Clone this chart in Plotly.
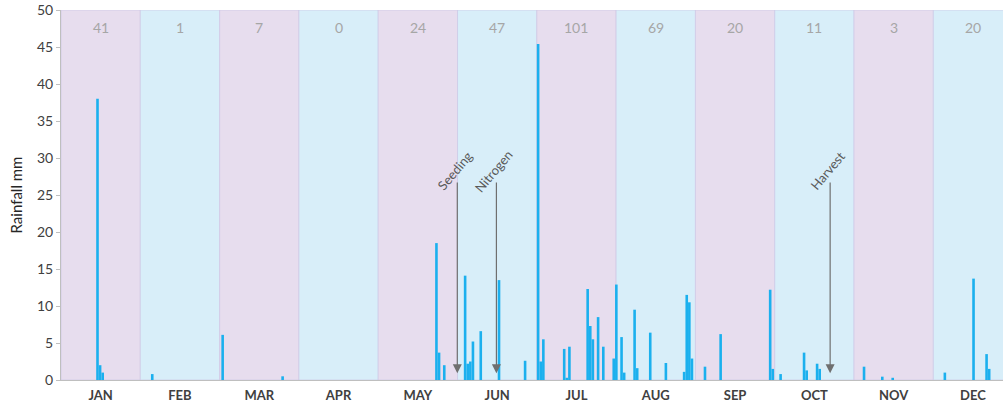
import plotly.graph_objects as go

# Month names and monthly rainfall totals (mm)
months = ["JAN", "FEB", "MAR", "APR", "MAY", "JUN",
          "JUL", "AUG", "SEP", "OCT", "NOV", "DEC"]
month_totals = [41, 1, 7, 0, 24, 47, 101, 69, 20, 11, 3, 20]

# Daily rainfall: day of year and amount (mm)
rain_day = [15, 16, 17,
            36,
            63, 86,
            145, 146, 148,
            156, 157, 158, 159, 162, 169, 179,
            184, 185, 186, 194, 195, 196, 203, 204, 205, 207, 209,
            213, 214, 216, 217, 221, 222, 227, 233, 240, 241, 242, 243,
            248, 254, 273,
            274, 277, 286, 287, 291, 292,
            309, 316, 320,
            340, 351, 356, 357]
rain_mm = [38.0, 2.0, 1.0,
           0.8,
           6.1, 0.5,
           18.5, 3.7, 2.0,
           14.1, 2.2, 2.5, 5.2, 6.6, 13.5, 2.6,
           45.4, 2.5, 5.5, 4.2, 0.3, 4.5, 12.3, 7.3, 5.5, 8.5, 4.5,
           2.9, 12.9, 5.8, 1.0, 9.5, 1.6, 6.4, 2.3, 1.1, 11.5, 10.5, 2.9,
           1.8, 6.2, 12.2,
           1.5, 0.8, 3.7, 1.3, 2.2, 1.5,
           1.8, 0.45, 0.3,
           1.0, 13.7, 3.5, 1.5]

# Field operations (day of year)
event_labels = ["Seeding", "Nitrogen", "Harvest"]
event_day = [153, 168, 296]

month_width = 365 / 12
band_colors = ["#e7ddee", "#d8eef9"]
label_font = "Lato, 'Open Sans', sans-serif"

fig = go.Figure()

fig.add_trace(go.Bar(
    x=[d - 1 for d in rain_day],
    y=rain_mm,
    width=1.0,
    marker=dict(color="#1bb0ee", line=dict(width=0)),
    hoverinfo="x+y",
))

# Alternating month bands
for k in range(len(months)):
    fig.add_shape(
        type="rect", xref="x", yref="y",
        x0=k * month_width, x1=(k + 1) * month_width, y0=0, y1=50,
        fillcolor=band_colors[k % 2],
        line=dict(color="rgba(205,200,230,0.7)", width=1),
        layer="below",
    )

# Monthly totals along the top
for k, total in enumerate(month_totals):
    fig.add_annotation(
        x=(k + 0.5) * month_width, y=47.7, xref="x", yref="y",
        text=str(total), showarrow=False,
        font=dict(family=label_font, size=14, color="#a6a6a6"),
    )

# Operation markers: arrow plus slanted label
for label, day in zip(event_labels, event_day):
    fig.add_annotation(
        x=day - 1, y=0.9, ax=day - 1, ay=26.9,
        xref="x", yref="y", axref="x", ayref="y",
        text="", showarrow=True,
        arrowhead=2, arrowsize=1.5, arrowwidth=1.2, arrowcolor="#6f6f6f",
    )
    fig.add_annotation(
        x=day - 1, y=28.3, xref="x", yref="y",
        text=label, showarrow=False, textangle=-50, xshift=-3,
        font=dict(family=label_font, size=13, color="#595959"),
    )

fig.update_layout(
    width=1003, height=407,
    margin=dict(l=61, r=0, t=10, b=27),
    paper_bgcolor="white", plot_bgcolor="white",
    showlegend=False,
    font=dict(family=label_font, color="#404040"),
    xaxis=dict(
        range=[0, 361.3],
        tickvals=[(k + 0.5) * month_width for k in range(len(months))],
        ticktext=[f"<b>{m}</b>" for m in months],
        ticks="", showgrid=False, zeroline=False,
        showline=True, linecolor="#bfbfbf", linewidth=1,
        ticklabelstandoff=3,
        tickfont=dict(family=label_font, size=13, color="#404040"),
    ),
    yaxis=dict(
        range=[0, 50], dtick=5,
        ticks="outside", ticklen=4, tickcolor="#bfbfbf",
        showgrid=False, zeroline=False,
        showline=True, linecolor="#bfbfbf", linewidth=1,
        tickfont=dict(family=label_font, size=14, color="#404040"),
        title=dict(text="Rainfall mm", standoff=10,
                   font=dict(family=label_font, size=15, color="#262626")),
    ),
)

fig.write_html("out.html")
